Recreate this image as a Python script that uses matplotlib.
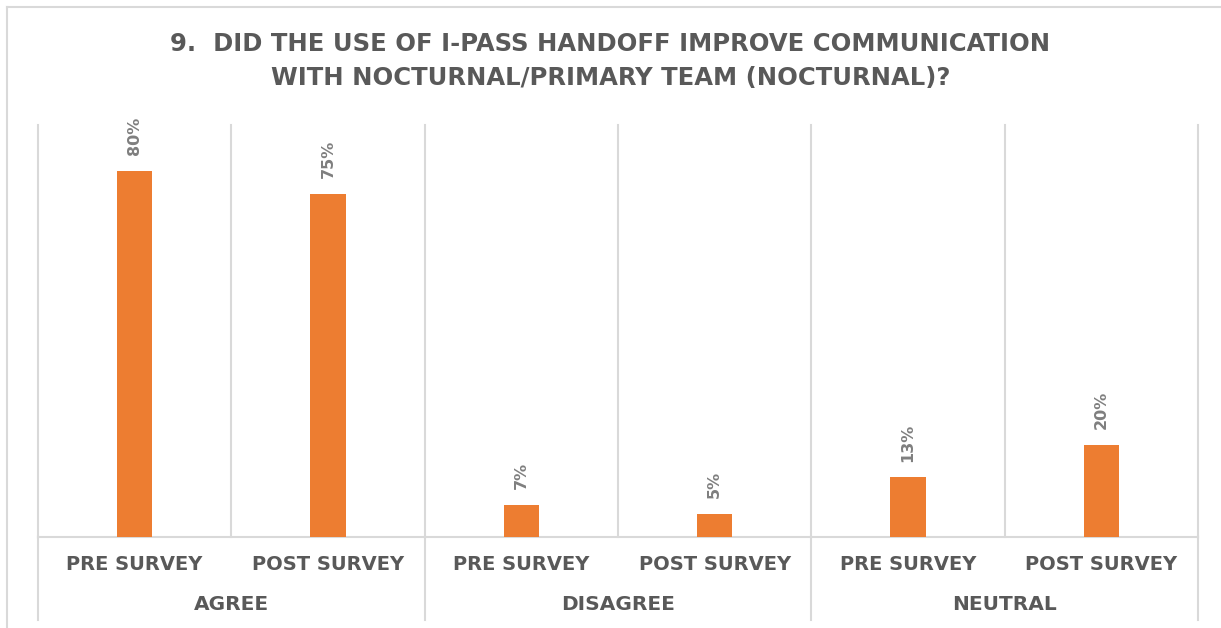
import matplotlib
matplotlib.use("Agg")
import matplotlib.pyplot as plt
from matplotlib.lines import Line2D

# Survey responses
groups = ["AGREE", "DISAGREE", "NEUTRAL"]
surveys = ["PRE SURVEY", "POST SURVEY"]
agree = [0.80, 0.75]
disagree = [0.07, 0.05]
neutral = [0.13, 0.20]
title = "9.  DID THE USE OF I-PASS HANDOFF IMPROVE COMMUNICATION\nWITH NOCTURNAL/PRIMARY TEAM (NOCTURNAL)?"

values = agree + disagree + neutral
labels = surveys * len(groups)

BAR = "#ED7D31"
TEXT = "#595959"
VALUE_TEXT = "#7F7F7F"
GRID = "#D9D9D9"
FONT = "DejaVu Sans"

W, H = 1221, 628
fig = plt.figure(figsize=(W / 100, H / 100), dpi=100)
fig.patch.set_facecolor("white")

# chart frame: top and left edges (the rest runs off the canvas)
fy = 1 - 6.5 / H
fx = 6.5 / W
fig.add_artist(Line2D([fx, 1.01], [fy, fy], transform=fig.transFigure,
                      color=GRID, linewidth=1.5))
fig.add_artist(Line2D([fx, fx], [-0.01, fy], transform=fig.transFigure,
                      color=GRID, linewidth=1.5))

left, right = 38 / W, 1198 / W
base, top = 1 - 537 / H, 1 - 125 / H
ax = fig.add_axes([left, base, right - left, top - base])
ax.set_xlim(-0.5, len(values) - 0.5)
ax.set_ylim(0, 0.9)
ax.axis("off")

x = list(range(len(values)))
bars = ax.bar(x, values, width=0.184, color=BAR, zorder=3)

# vertical dividers between categories
for i in range(len(values) + 1):
    ax.axvline(i - 0.5, color=GRID, linewidth=1.5, zorder=1, clip_on=False)
ax.axhline(0, color=GRID, linewidth=1.5, zorder=2, clip_on=False)

# group dividers extend through the label band
band = (537 - 620) / (537 - 125)
for i in range(0, len(values) + 1, 2):
    ax.add_line(Line2D([i - 0.5, i - 0.5], [band, 0],
                       transform=ax.get_xaxis_transform(),
                       color=GRID, linewidth=1.5, clip_on=False))

# value labels
for rect, v in zip(bars, values):
    ax.annotate(f"{v:.0%}", (rect.get_x() + rect.get_width() / 2, v),
                xytext=(0, 11.5), textcoords="offset points", rotation=90,
                ha="center", va="bottom", fontsize=11.5, fontweight="bold",
                color=VALUE_TEXT, family=FONT)

# category labels
sub_y = (537 - 564) / (537 - 125)
grp_y = (537 - 605) / (537 - 125)
for xi, lab in zip(x, labels):
    ax.text(xi, sub_y, lab, transform=ax.get_xaxis_transform(),
            ha="center", va="center", fontsize=14, fontweight="bold",
            color=TEXT, family=FONT)
for gi, g in enumerate(groups):
    ax.text(2 * gi + 0.5, grp_y, g, transform=ax.get_xaxis_transform(),
            ha="center", va="center", fontsize=14.5, fontweight="bold",
            color=TEXT, family=FONT)

fig.text(0.5, 1 - 61 / H, title, ha="center", va="center",
         fontsize=17.5, fontweight="bold", color=TEXT, family=FONT,
         linespacing=1.5)

fig.savefig("out.png", dpi=100, facecolor="white")
